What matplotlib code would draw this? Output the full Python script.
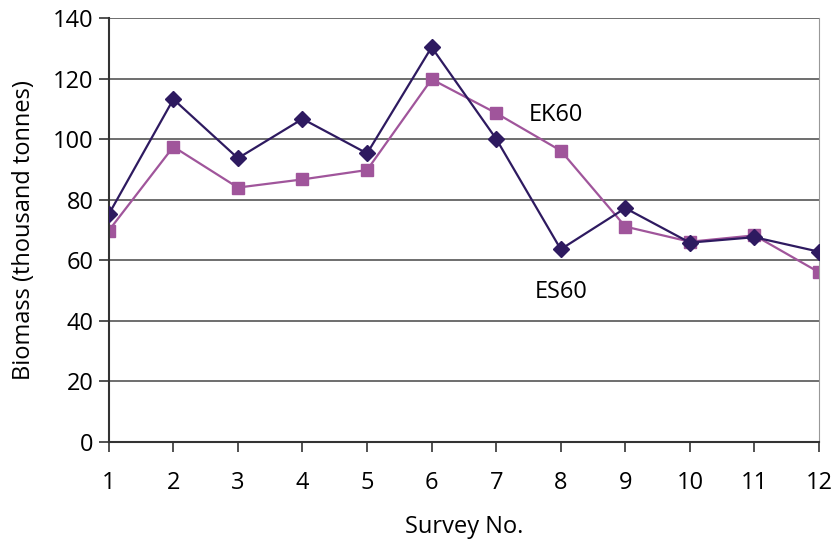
import matplotlib.pyplot as plt
import numpy as np

# Data
surveys = np.arange(1, 13)
es60 = [75.3, 113.3, 93.8, 106.8, 95.4, 130.5, 100.2, 63.7, 77.3, 65.9, 67.7, 62.9]
ek60 = [69.9, 97.6, 84.1, 86.8, 89.9, 119.9, 108.7, 96.3, 71.2, 66.2, 68.3, 56.1]

navy = "#2e1a60"
pink = "#a0559b"

plt.rcParams["font.family"] = ["Open Sans", "DejaVu Sans"]

fig = plt.figure(figsize=(8.37, 5.43), dpi=100)
ax = fig.add_axes([0.130, 0.186, 0.8485, 0.780])

ax.plot(surveys, es60, color=navy, marker="D", markersize=8, linewidth=1.6, zorder=3)
ax.plot(surveys, ek60, color=pink, marker="s", markersize=8, linewidth=1.6, zorder=2)

ax.text(7.93, 108.0, "EK60", fontsize=17, ha="center", va="center")
ax.text(8.0, 49.5, "ES60", fontsize=17, ha="center", va="center")

# Axes formatting
ax.set_xlim(1, 12)
ax.set_ylim(0, 140)
ax.set_xticks(surveys)
ax.set_yticks(np.arange(0, 141, 20))
ax.yaxis.grid(True, color="#555555", linewidth=1.2)
ax.set_axisbelow(True)
ax.tick_params(labelsize=17, length=7, width=1.2, color="#333333", pad=4)
ax.tick_params(axis="x", pad=14)

for side in ["left", "bottom"]:
    ax.spines[side].set_color("#333333")
    ax.spines[side].set_linewidth(1.5)
ax.spines["right"].set_color("#999999")
ax.spines["top"].set_visible(False)

ax.set_ylabel("Biomass (thousand tonnes)", fontsize=17, labelpad=12)
ax.set_xlabel("Survey No.", fontsize=17, labelpad=14)

plt.savefig("out.png", dpi=100)
plt.close()
